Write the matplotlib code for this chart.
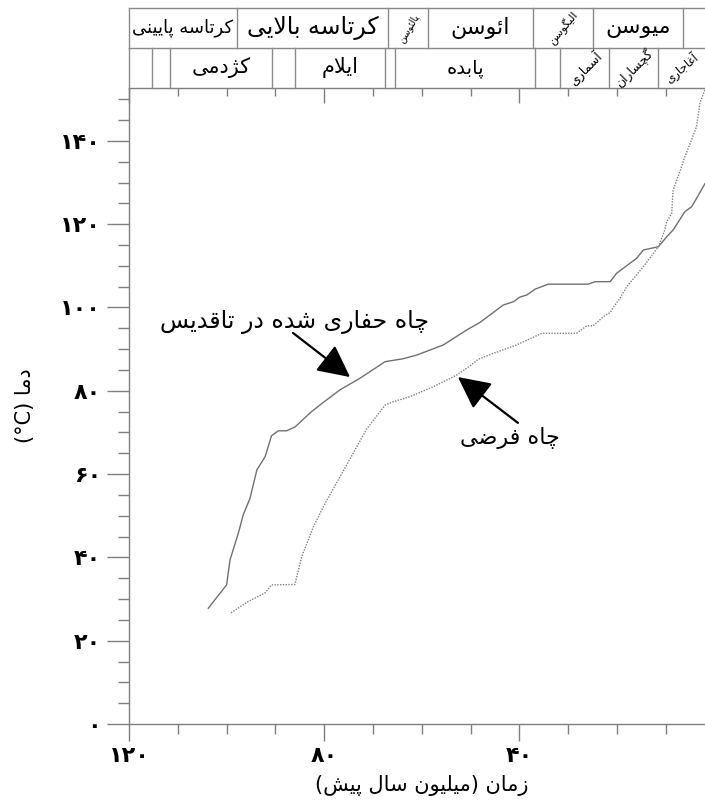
import matplotlib
matplotlib.use('Agg')
import matplotlib.pyplot as plt

plt.rcParams['font.family'] = ['DejaVu Sans']

# ---------------- data ----------------
solid_age = [103.75, 100.0, 99.3, 97.6, 96.6, 95.2, 93.8, 92.1, 90.8, 89.4, 87.7, 86.0,
             82.6, 80.2, 76.8, 72.7, 67.5, 63.8, 61.0, 55.6, 50.8, 48.1, 43.3, 41.2,
             39.9, 38.5, 36.8, 34.1, 25.9, 24.5, 21.4, 20.1, 16.0, 14.6, 11.5, 9.8,
             8.5, 6.1, 4.7, 3.3, 2.0]
solid_temp = [27.8, 33.4, 39.4, 45.8, 50.2, 54.2, 61.0, 64.2, 69.2, 70.4, 70.4, 71.3,
              75.0, 77.2, 80.2, 83.0, 87.0, 87.7, 88.6, 91.0, 94.6, 96.4, 100.6, 101.4,
              102.5, 103.0, 104.4, 105.6, 105.6, 106.2, 106.2, 108.2, 111.8, 113.8, 114.6, 117.0,
              118.6, 123.0, 124.2, 127.0, 129.7]

dotted_age = [99.1, 95.6, 92.1, 90.8, 86.0, 84.6, 82.2, 79.8, 71.3, 67.5, 65.8, 62.4,
              57.6, 52.8, 50.1, 48.4, 45.3, 40.6, 35.4, 28.3, 26.2, 24.9, 22.8, 21.4,
              20.9, 19.4, 18.0, 14.6, 11.5, 10.2, 9.8, 8.8, 8.5, 7.0, 6.1, 5.0, 3.7, 3.0, 2.0]
dotted_temp = [26.7, 29.4, 31.5, 33.4, 33.5, 40.2, 47.4, 53.0, 70.8, 76.6, 77.4, 78.6,
               81.0, 83.8, 86.0, 87.6, 89.0, 91.0, 93.8, 93.8, 95.6, 95.6, 97.8, 98.8,
               99.8, 102.2, 105.0, 109.8, 114.6, 118.6, 120.6, 122.6, 128.2, 133.0, 136.2, 139.4, 143.4, 149.1, 152.3]

y_major = [0, 20, 40, 60, 80, 100, 120, 140]
x_major = [120, 80, 40]

row1_bounds = [120, 97.9, 66.9, 58.7, 37.2, 24.9, 6.5]
row1_labels = ['کرتاسه پایینی', 'کرتاسه بالایی', 'پالئوسن', 'ائوسن', 'الیگوسن', 'میوسن', '']
row1_sizes = [13, 17, 7, 16, 8, 16, 10]
row1_rot = [0, 0, 60, 0, 50, 0, 0]

row2_bounds = [120, 115.3, 111.6, 90.7, 86.0, 67.5, 65.5, 36.8, 31.7, 21.6, 11.6]
row2_labels = ['', '', 'کژدمی', '', 'ایلام', '', 'پابده', '', 'آسماری', 'گچساران', 'آغاجاری']
row2_sizes = [10, 10, 15, 10, 15, 10, 14, 10, 9, 9, 8.5]
row2_rot = [0, 0, 0, 0, 0, 0, 0, 0, 45, 45, 40]

label_drilled = 'چاه حفاری شده در تاقدیس'
label_hypo = 'چاه فرضی'
xlabel_main = 'زمان'
xlabel_paren = 'میلیون سال پیش'
ylabel_word = 'دما'

X_LEFT, X_RIGHT = 120, 0
Y_TOP = 152.7

# ---------------- simple Persian shaping ----------------
_F = {
    '\u0627': ('\uFE8D', '\uFE8E', None, None),
    '\u0622': ('\uFE81', '\uFE82', None, None),
    '\u0628': ('\uFE8F', '\uFE90', '\uFE91', '\uFE92'),
    '\u067E': ('\uFB56', '\uFB57', '\uFB58', '\uFB59'),
    '\u062A': ('\uFE95', '\uFE96', '\uFE97', '\uFE98'),
    '\u062C': ('\uFE9D', '\uFE9E', '\uFE9F', '\uFEA0'),
    '\u0686': ('\uFB7A', '\uFB7B', '\uFB7C', '\uFB7D'),
    '\u062D': ('\uFEA1', '\uFEA2', '\uFEA3', '\uFEA4'),
    '\u062F': ('\uFEA9', '\uFEAA', None, None),
    '\u0631': ('\uFEAD', '\uFEAE', None, None),
    '\u0632': ('\uFEAF', '\uFEB0', None, None),
    '\u0698': ('\uFB8A', '\uFB8B', None, None),
    '\u0633': ('\uFEB1', '\uFEB2', '\uFEB3', '\uFEB4'),
    '\u0634': ('\uFEB5', '\uFEB6', '\uFEB7', '\uFEB8'),
    '\u0636': ('\uFEBD', '\uFEBE', '\uFEBF', '\uFEC0'),
    '\u063A': ('\uFECD', '\uFECE', '\uFECF', '\uFED0'),
    '\u0641': ('\uFED1', '\uFED2', '\uFED3', '\uFED4'),
    '\u0642': ('\uFED5', '\uFED6', '\uFED7', '\uFED8'),
    '\u06A9': ('\uFB8E', '\uFB8F', '\uFB90', '\uFB91'),
    '\u06AF': ('\uFB92', '\uFB93', '\uFB94', '\uFB95'),
    '\u0644': ('\uFEDD', '\uFEDE', '\uFEDF', '\uFEE0'),
    '\u0645': ('\uFEE1', '\uFEE2', '\uFEE3', '\uFEE4'),
    '\u0646': ('\uFEE5', '\uFEE6', '\uFEE7', '\uFEE8'),
    '\u0648': ('\uFEED', '\uFEEE', None, None),
    '\u0647': ('\uFEE9', '\uFEEA', '\uFEEB', '\uFEEC'),
    '\u06CC': ('\uFBFC', '\uFBFD', '\uFBFE', '\uFBFF'),
    '\u0626': ('\uFE89', '\uFE8A', '\uFE8B', '\uFE8C'),
}
_LAMALEF = {'\u0627': ('\uFEFB', '\uFEFC'), '\u0622': ('\uFEF5', '\uFEF6')}
_MIRROR = {'(': ')', ')': '('}


def _joins_next(c):
    return c in _F and _F[c][2] is not None


def rtl(s):
    s = s.replace('\u064A', '\u06CC').replace('\u0643', '\u06A9')
    out = []
    i, n = 0, len(s)
    while i < n:
        c = s[i]
        if c not in _F:
            out.append(_MIRROR.get(c, c))
            i += 1
            continue
        jp = i > 0 and _joins_next(s[i - 1])
        if c == '\u0644' and i + 1 < n and s[i + 1] in _LAMALEF:
            out.append(_LAMALEF[s[i + 1]][1 if jp else 0])
            i += 2
            continue
        jn = _joins_next(c) and i + 1 < n and s[i + 1] in _F
        f = _F[c]
        if jp and jn:
            out.append(f[3])
        elif jp:
            out.append(f[1])
        elif jn:
            out.append(f[2])
        else:
            out.append(f[0])
        i += 1
    return ''.join(reversed(out))


_DIG = str.maketrans('0123456789', '۰۱۲۳۴۵۶۷۸۹')


def fa_num(v):
    return str(int(v)).translate(_DIG)


# ---------------- figure ----------------
W, H = 705, 808
fig = plt.figure(figsize=(W / 100, H / 100), dpi=100)

ax_l = 129 / W
ax_r = 714.6 / W
ax_b = (H - 724) / H
ax_t = (H - 88) / H
ax = fig.add_axes([ax_l, ax_b, ax_r - ax_l, ax_t - ax_b])

GRAY = '#7f7f7f'
ax.plot(solid_age, solid_temp, color='#707070', lw=1.0, ls='-')
ax.plot(dotted_age, dotted_temp, color='#808080', lw=1.0, ls=(0, (1, 1)))

ax.set_xlim(X_LEFT, X_RIGHT)
ax.set_ylim(0, Y_TOP)

for side in ['left', 'bottom', 'top']:
    ax.spines[side].set_color(GRAY)
    ax.spines[side].set_linewidth(1.0)
ax.spines['right'].set_visible(False)

ax.set_yticks(y_major)
ax.set_yticklabels([fa_num(v) for v in y_major], fontsize=16, fontweight='bold')
ax.set_yticks([v for v in range(0, 155, 5) if v % 20 != 0], minor=True)
ax.set_xticks(x_major)
ax.set_xticklabels([fa_num(v) for v in x_major], fontsize=16, fontweight='bold')
ax.set_xticks([v for v in range(0, 121, 10) if v not in x_major], minor=True)

ax.tick_params(axis='y', which='major', direction='out', length=16, width=1, color=GRAY, pad=4)
ax.tick_params(axis='y', which='minor', direction='out', length=8, width=1, color=GRAY)
ax.tick_params(axis='x', which='major', direction='out', length=12, width=1, color=GRAY, pad=4,
               top=True)
ax.tick_params(axis='x', which='minor', direction='out', length=7, width=1, color=GRAY, top=True)
# top ticks inward
for t in ax.xaxis.get_major_ticks():
    t.tick2line.set_marker(3)  # TICKDOWN
    t.tick2line.set_markersize(11)
for t in ax.xaxis.get_minor_ticks():
    t.tick2line.set_marker(3)
    t.tick2line.set_markersize(6)

ax.set_xlabel('(' + rtl(xlabel_paren) + ') ' + rtl(xlabel_main), fontsize=15, labelpad=6)
ax.set_ylabel('(°C) ' + rtl(ylabel_word), fontsize=15, labelpad=18)

# annotations
ax.text(86.0, 96.5, rtl(label_drilled), fontsize=17, ha='center', va='center')
ax.annotate('', xy=(74.7, 83.3), xytext=(86.4, 93.9),
            arrowprops=dict(arrowstyle='-|>,head_length=0.9,head_width=0.45',
                            mutation_scale=22, lw=1.6, color='black',
                            shrinkA=0, shrinkB=0))
ax.text(41.9, 68.7, rtl(label_hypo), fontsize=16, ha='center', va='center')
ax.annotate('', xy=(52.6, 83.3), xytext=(40.3, 72.3),
            arrowprops=dict(arrowstyle='-|>,head_length=0.9,head_width=0.45',
                            mutation_scale=22, lw=1.6, color='black',
                            shrinkA=0, shrinkB=0))

# ---------------- header table ----------------
hb = (H - 88) / H
ht = (H - 8) / H
hax = fig.add_axes([ax_l, hb, ax_r - ax_l, ht - hb])
hax.set_xlim(X_LEFT, X_RIGHT)
hax.set_ylim(0, 2)
hax.axis('off')
LC = '#8a8a8a'
hax.plot([X_LEFT, X_RIGHT], [2, 2], color=LC, lw=1.0, clip_on=False)
hax.plot([X_LEFT, X_RIGHT], [1, 1], color=LC, lw=1.0, clip_on=False)
for b in row1_bounds:
    hax.plot([b, b], [1, 2], color=LC, lw=1.0, clip_on=False)
for b in row2_bounds:
    hax.plot([b, b], [0, 1], color=LC, lw=1.0, clip_on=False)

vis_right = 2.0
r1_edges = row1_bounds + [vis_right]
for i, lab in enumerate(row1_labels):
    if not lab:
        continue
    cx = (r1_edges[i] + r1_edges[i + 1]) / 2
    hax.text(cx, 1.5, rtl(lab), fontsize=row1_sizes[i], rotation=row1_rot[i],
             ha='center', va='center', rotation_mode='anchor')
r2_edges = row2_bounds + [vis_right]
for i, lab in enumerate(row2_labels):
    if not lab:
        continue
    cx = (r2_edges[i] + r2_edges[i + 1]) / 2
    hax.text(cx, 0.5, rtl(lab), fontsize=row2_sizes[i], rotation=row2_rot[i],
             ha='center', va='center', rotation_mode='anchor')

fig.savefig('out.png', dpi=100)
